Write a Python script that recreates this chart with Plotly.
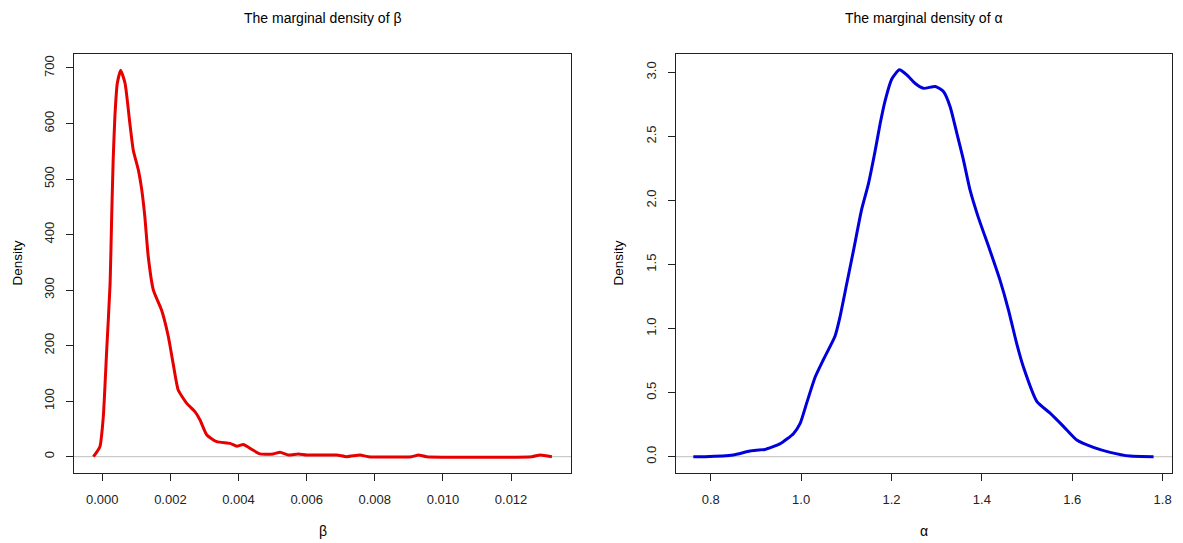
import plotly.graph_objects as go

# Marginal posterior density of beta (sampled along the curve)
beta_x = [-0.00026, -0.00007, 0.00003, 0.00013, 0.00023, 0.000276, 0.00032, 0.00037,
          0.00044, 0.00054, 0.00067, 0.00081, 0.00091, 0.00106, 0.00116, 0.00125,
          0.00135, 0.0015, 0.00174, 0.00194, 0.00208, 0.00223, 0.00248, 0.00272,
          0.00287, 0.00307, 0.00336, 0.00375, 0.00395, 0.00414, 0.00434, 0.00463,
          0.00502, 0.00522, 0.00546, 0.00576, 0.0060, 0.00688, 0.00718, 0.00757,
          0.00781, 0.00908, 0.00928, 0.00952, 0.01261, 0.01285, 0.0132]
beta_y = [0, 18, 72, 192, 312, 432, 534, 612,
          672, 696, 672, 600, 552, 516, 480, 432,
          360, 300, 264, 216, 168, 120, 96, 81,
          66, 39, 27, 24, 19, 22, 15, 5,
          5, 8, 3, 5, 3, 3, 0, 3,
          0, 0, 3, 0, 0, 3, 0]

# Marginal posterior density of alpha
alpha_x = [0.7615, 0.787, 0.850, 0.887, 0.920, 0.953, 0.983, 0.998, 1.0125, 1.031,
           1.049, 1.075, 1.086, 1.101, 1.116, 1.134, 1.149, 1.164, 1.175, 1.186,
           1.201, 1.2175, 1.234, 1.252, 1.271, 1.297, 1.315, 1.330, 1.345, 1.359,
           1.374, 1.392, 1.418, 1.440, 1.459, 1.477, 1.492, 1.522, 1.551, 1.581,
           1.610, 1.647, 1.684, 1.728, 1.780]
alpha_y = [0.0, 0.0, 0.013, 0.045, 0.057, 0.10, 0.18, 0.26, 0.42, 0.62,
           0.755, 0.94, 1.09, 1.35, 1.61, 1.93, 2.13, 2.39, 2.60, 2.78,
           2.95, 3.02, 2.98, 2.915, 2.875, 2.89, 2.85, 2.73, 2.52, 2.32,
           2.08, 1.87, 1.61, 1.38, 1.145, 0.885, 0.70, 0.43, 0.34, 0.235,
           0.13, 0.073, 0.034, 0.005, 0.0]

beta_ticks = [0.000, 0.002, 0.004, 0.006, 0.008, 0.010, 0.012]
beta_dens_ticks = [0, 100, 200, 300, 400, 500, 600, 700]
alpha_ticks = [0.8, 1.0, 1.2, 1.4, 1.6, 1.8]
alpha_dens_ticks = [0.0, 0.5, 1.0, 1.5, 2.0, 2.5, 3.0]

W, H = 1183, 543
FONT = "Liberation Sans, Arial, sans-serif"
INK = "#222222"

fig = go.Figure()
fig.add_trace(go.Scatter(x=beta_x, y=beta_y, mode="lines", xaxis="x", yaxis="y",
                         line=dict(color="#e60000", width=3, shape="spline", smoothing=0.5),
                         showlegend=False, hoverinfo="skip"))
fig.add_trace(go.Scatter(x=alpha_x, y=alpha_y, mode="lines", xaxis="x2", yaxis="y2",
                         line=dict(color="#0000dc", width=3, shape="spline", smoothing=0.5),
                         showlegend=False, hoverinfo="skip"))

# panel geometry in pixels
L1, R1 = 74, 571
L2, R2 = 676, 1172
TOP, BOT = 54, 473

def px_x(p):
    return p / W

def px_y(p):
    return 1 - p / H

axis_common = dict(showgrid=False, zeroline=False, showline=True, mirror=True,
                   linecolor=INK, linewidth=1, ticks="outside", ticklen=7,
                   tickcolor=INK, tickwidth=1,
                   tickfont=dict(family=FONT, size=13, color=INK))

fig.update_layout(
    width=W, height=H,
    margin=dict(l=0, r=0, t=0, b=0),
    paper_bgcolor="white", plot_bgcolor="white",
    xaxis=dict(domain=[px_x(L1), px_x(R1)], anchor="y",
               range=[-0.00083, 0.01376], tickvals=beta_ticks, tickformat=".3f",
               ticklabelstandoff=7, **axis_common),
    yaxis=dict(domain=[px_y(BOT), px_y(TOP)], anchor="x",
               range=[-29.4, 725.2], tickvals=beta_dens_ticks, tickangle=-90,
               ticklabelstandoff=7, **axis_common),
    xaxis2=dict(domain=[px_x(L2), px_x(R2)], anchor="y2",
                range=[0.7232, 1.8208], tickvals=alpha_ticks, tickformat=".1f",
                ticklabelstandoff=7, **axis_common),
    yaxis2=dict(domain=[px_y(BOT), px_y(TOP)], anchor="x2",
                range=[-0.127, 3.143], tickvals=alpha_dens_ticks, tickformat=".1f",
                tickangle=-90, ticklabelstandoff=7, **axis_common),
)

# horizontal reference line at zero density
for xr, yr in (("x domain", "y"), ("x2 domain", "y2")):
    fig.add_shape(type="line", xref=xr, yref=yr, x0=0, x1=1, y0=0, y1=0,
                  line=dict(color="#bebebe", width=1), layer="below")

def label(text, xp, yp, size=13, angle=0):
    fig.add_annotation(text=text, x=px_x(xp), y=px_y(yp), xref="paper", yref="paper",
                       showarrow=False, textangle=angle, xanchor="center", yanchor="middle",
                       font=dict(family=FONT, size=size, color="black"))

label("The marginal density of β", (L1 + R1) / 2, 18, size=14)
label("The marginal density of α", (L2 + R2) / 2, 18, size=14)
label("β", (L1 + R1) / 2, 531, size=14)
label("α", (L2 + R2) / 2, 531, size=14)
label("Density", 17, (TOP + BOT) / 2, size=13.5, angle=-90)
label("Density", 618, (TOP + BOT) / 2, size=13.5, angle=-90)

fig.write_html("out.html")
